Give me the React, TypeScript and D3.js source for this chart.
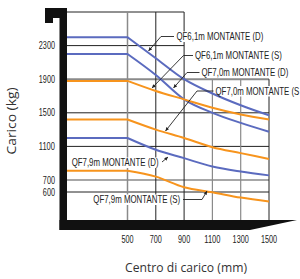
import * as d3 from 'd3';

// load centre (mm) – first value is the left edge of the plot
const loadCentres = [0, 500, 700, 900, 1100, 1300, 1500];
const qf61D = [2400, 2400, 2150, 1900, 1730, 1590, 1470];
const qf61S = [2200, 2200, 1950, 1660, 1500, 1380, 1275];
const qf70D = [1880, 1880, 1760, 1660, 1560, 1480, 1420];
const qf70S = [1420, 1420, 1300, 1200, 1090, 1020, 950];
const qf79D = [1200, 1200, 1060, 960, 860, 800, 755];
const qf79S = [810, 810, 740, 640, 597, 530, 480];

const yTicks = [2300, 1900, 1500, 1100, 700, 600];
const xTicks = [500, 700, 900, 1100, 1300, 1500];

const BLUE = '#5b6bbf';
const ORANGE = '#f7941d';

const series = [
  { name: 'QF6,1m MONTANTE (D)', values: qf61D, color: BLUE },
  { name: 'QF6,1m MONTANTE (S)', values: qf61S, color: BLUE },
  { name: 'QF7,0m MONTANTE (D)', values: qf70D, color: ORANGE },
  { name: 'QF7,0m MONTANTE (S)', values: qf70S, color: ORANGE },
  { name: 'QF7,9m MONTANTE (D)', values: qf79D, color: BLUE },
  { name: 'QF7,9m MONTANTE (S)', values: qf79S, color: ORANGE },
];

// label layout: text start, baseline, leader polyline (last point = arrow tip)
const labelLayout = [
  { x: 176.5, y: 40, leader: [[174, 36.5], [161, 36.5], [148.5, 51]] },
  { x: 195, y: 59, leader: [[193, 55.5], [183.5, 55.5], [152, 88]] },
  { x: 201.5, y: 76, leader: [[199.5, 72.5], [187, 72.5], [173.5, 88]] },
  { x: 215.5, y: 94.5, leader: [[213.5, 91], [197, 91], [165.5, 131]] },
  { x: 71.7, y: 166, leader: [[162, 162], [168, 157]] },
  { x: 93.3, y: 203, leader: [[183, 199.5], [202, 199.5], [207, 191]] },
];

const W = 300;
const H = 279;
const left = 67;
const right = 269;
const top = 12;
const bottom = 220;

const x = d3.scaleLinear().domain([0, 500, 1500]).range([left, 127.5, right]);
const y = d3.scaleLinear().domain([250, 600, 700, 2700]).range([bottom, 192, 180, top]);

const curve = d3
  .line<number>()
  .x((_, i) => x(loadCentres[i + 1]))
  .y((d) => y(d))
  .curve(d3.curveMonotoneX);

function seriesPath(values: number[]) {
  // flat part up to 500 mm, then a smooth decline
  const tail = curve(values.slice(1)) as string;
  return `M${x(loadCentres[0])},${y(values[0])}L${tail.slice(1)}`;
}

const FONT = "'Liberation Sans', Arial, sans-serif";
const TITLE_FONT = "'Open Sans', sans-serif";

// measure text so condensed labels can be squeezed to the reference width
const ctx = document.createElement('canvas').getContext('2d')!;
function measure(text: string, size: number, family: string) {
  ctx.font = `${size}px ${family}`;
  return ctx.measureText(text).width;
}

function Squeezed({ text, x0, y0, width, size, family = FONT, anchor = 'start', fill = '#222' }: {
  text: string; x0: number; y0: number; width: number; size: number;
  family?: string; anchor?: 'start' | 'middle' | 'end'; fill?: string;
}) {
  const sx = width / measure(text, size, family);
  return (
    <g transform={`translate(${x0},${y0}) scale(${sx},1)`}>
      <text x={0} y={0} textAnchor={anchor} fontFamily={family} fontSize={size} fill={fill}>
        {text}
      </text>
    </g>
  );
}

export default function App() {
  const gridDark = '#222';
  const gridGray = '#8a8a8a';
  const hLines = [
    { v: 2700, x1: 0, x2: 900, c: gridDark, w: 1 },
    { v: 2300, x1: 0, x2: 900, c: gridDark, w: 1 },
    { v: 1900, x1: 0, x2: 1500, c: gridGray, w: 2 },
    { v: 1500, x1: 0, x2: 1500, c: gridDark, w: 1 },
    { v: 1100, x1: 0, x2: 1500, c: gridDark, w: 1 },
    { v: 700, x1: 0, x2: 1500, c: gridGray, w: 1.6 },
    { v: 600, x1: 0, x2: 1500, c: gridDark, w: 1 },
  ];
  const vLines = [
    { v: 500, y1: 2700, c: gridGray, w: 1.5 },
    { v: 700, y1: 2700, c: gridDark, w: 1 },
    { v: 900, y1: 2700, c: gridDark, w: 1 },
    { v: 1100, y1: 1900, c: gridGray, w: 1.2 },
    { v: 1300, y1: 1900, c: gridGray, w: 1.2 },
    { v: 1500, y1: 1900, c: gridDark, w: 1 },
  ];

  return (
    <svg
      width={W}
      height={H}
      style={{ position: 'absolute', left: 0, top: 0, background: '#fff' }}
    >
      <defs>
        <marker id="arrow" viewBox="0 0 10 10" refX="10" refY="5" markerWidth="5" markerHeight="4" orient="auto">
          <path d="M0,0L10,5L0,10Z" fill="#222" />
        </marker>
      </defs>

      {/* grid */}
      {hLines.map((l) => (
        <line key={'h' + l.v} x1={x(l.x1)} x2={x(l.x2)} y1={y(l.v)} y2={y(l.v)} stroke={l.c} strokeWidth={l.w} />
      ))}
      {vLines.map((l) => (
        <line key={'v' + l.v} x1={x(l.v)} x2={x(l.v)} y1={y(l.y1)} y2={bottom} stroke={l.c} strokeWidth={l.w} />
      ))}

      {/* label backgrounds */}
      {labelLayout.map((l, i) => (
        <rect key={'bg' + i} x={l.x - 1.5} y={l.y - 8.5} width={Math.min(90, W - l.x + 1.5)} height={10.5} fill="#fff" />
      ))}

      {/* curves */}
      {series.map((s) => (
        <path key={s.name} d={seriesPath(s.values)} fill="none" stroke={s.color} strokeWidth={2} />
      ))}

      {/* labels; the last one on the right runs past the edge in the original, so it is cut to fit */}
      {series.map((s, i) => {
        const l = labelLayout[i];
        const text = l.x + 87 > W ? s.name.slice(0, -1) : s.name;
        const width = l.x + 87 > W ? W - l.x - 0.5 : 87;
        return (
          <g key={'lab' + i}>
            <Squeezed text={text} x0={l.x} y0={l.y} width={width} size={10.5} />
            <polyline
              points={l.leader.map((p) => p.join(',')).join(' ')}
              fill="none"
              stroke="#222"
              strokeWidth={0.9}
              markerEnd="url(#arrow)"
            />
          </g>
        );
      })}

      {/* frame */}
      <path d="M45,8H67V230H59.5V18H53V23H45Z" fill="#111" />
      <path d={`M59.5,${bottom}H297L250,230H59.5Z`} fill="#111" />

      {/* y tick labels */}
      {yTicks.map((t) => (
        <Squeezed key={'yt' + t} text={String(t)} x0={55} y0={y(t) + 3.6} width={String(t).length * 4.05} size={10} anchor="end" />
      ))}

      {/* x tick labels */}
      {xTicks.map((t) => (
        <Squeezed key={'xt' + t} text={String(t)} x0={x(t)} y0={243} width={String(t).length * 4.05} size={10} anchor="middle" />
      ))}

      {/* axis titles */}
      <g transform="translate(16,121) rotate(-90)">
        <Squeezed text="Carico (kg)" x0={0} y0={0} width={67} size={13} family={TITLE_FONT} anchor="middle" fill="#333" />
      </g>
      <Squeezed text="Centro di carico (mm)" x0={186} y0={271.5} width={122} size={13} family={TITLE_FONT} anchor="middle" fill="#333" />
    </svg>
  );
}
